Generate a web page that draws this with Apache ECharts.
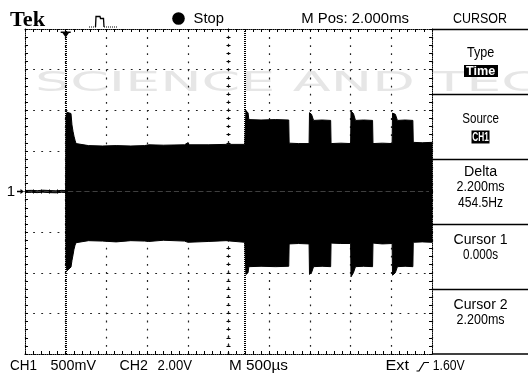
<!DOCTYPE html>
<html>
<head>
<meta charset="utf-8">
<script src="https://cdn.jsdelivr.net/npm/echarts@6/dist/echarts.min.js"></script>
<style>
html,body{margin:0;padding:0;background:#fff;}
#c{width:528px;height:376px;}
</style>
</head>
<body>
<div id="c"></div>
<script>
// ---------------- data (read from the scope screen) ----------------
// time in ms (trigger at 0), CH1 voltage envelope in V (500 mV/div)
const envTime = [-0.5, -0.42, -0.35, -0.28, -0.2, -0.12, -0.05, 0.0,
  0.004, 0.016, 0.04, 0.065, 0.077, 0.09, 0.102, 0.115, 0.127, 0.15,
  0.28, 0.45, 0.62, 0.8, 0.97, 1.02, 1.2, 1.46, 1.5, 1.52, 1.75, 1.97, 1.99, 2.2,
  2.205, 2.215, 2.24, 2.25, 2.4, 2.58, 2.74,
  2.745, 2.86, 2.99,
  2.995, 3.02, 3.045, 3.15, 3.255,
  3.26, 3.38, 3.5,
  3.505, 3.535, 3.56, 3.66, 3.77,
  3.775, 3.89, 4.01,
  4.015, 4.05, 4.075, 4.17, 4.265,
  4.27, 4.38, 4.5];
const envUpper = [0.012, 0.014, 0.010, 0.016, 0.012, 0.008, 0.014, 0.012,
  0.93, 0.975, 0.975, 0.96, 0.82, 0.74, 0.68, 0.63, 0.59, 0.585,
  0.565, 0.56, 0.565, 0.56, 0.565, 0.575, 0.57, 0.575, 0.60, 0.575, 0.575, 0.58, 0.60, 0.58,
  0.585, 0.99, 0.97, 0.885, 0.88, 0.885, 0.88,
  0.595, 0.59, 0.59,
  0.97, 0.95, 0.875, 0.88, 0.875,
  0.59, 0.595, 0.59,
  0.99, 0.96, 0.875, 0.88, 0.875,
  0.59, 0.595, 0.59,
  0.965, 0.95, 0.875, 0.88, 0.875,
  0.605, 0.60, 0.605];
const envLower = [-0.012, -0.010, -0.014, -0.008, -0.014, -0.016, -0.010, -0.012,
  -0.90, -0.975, -0.97, -0.93, -0.85, -0.78, -0.71, -0.66, -0.63, -0.615,
  -0.605, -0.61, -0.62, -0.605, -0.61, -0.615, -0.60, -0.61, -0.625, -0.61, -0.615, -0.605, -0.61, -0.625,
  -0.625, -1.02, -1.0, -0.925, -0.92, -0.925, -0.92,
  -0.645, -0.64, -0.645,
  -1.02, -1.0, -0.925, -0.92, -0.925,
  -0.635, -0.64, -0.64,
  -1.05, -1.0, -0.925, -0.92, -0.925,
  -0.635, -0.645, -0.64,
  -1.03, -1.0, -0.925, -0.92, -0.925,
  -0.625, -0.62, -0.625];
const cursorTimes = [0, 2.2];
const triggerTime = 0;
const channelLabel = '1';
const headerTexts = ['Tek', 'Stop', 'M Pos: 2.000ms', 'CURSOR'];
const footerTexts = ['CH1', '500mV', 'CH2', '2.00V', 'M 500\u00b5s', 'Ext', '1.60V'];
const menuTexts = ['Type', 'Time', 'Source', 'CH1', 'Delta', '2.200ms', '454.5Hz',
  'Cursor 1', '0.000s', 'Cursor 2', '2.200ms'];
const watermarkText = 'SCIENCE AND TECHNOLOGY';

// ---------------- layout / style ----------------
const GRID = {left: 25, top: 29, width: 407, height: 325};
const SANS = '"Liberation Sans", Arial, sans-serif';
const FONT14 = '14px ' + SANS;

const mctx = document.createElement('canvas').getContext('2d');
function measure(s, font) { mctx.font = font; return mctx.measureText(s).width; }
// text whose width is fitted to the width measured on the screen
function fitText(s, left, cy, width, opt) {
  opt = opt || {};
  const font = opt.font || FONT14;
  const w = measure(s, font);
  return {
    type: 'text', x: left, y: cy, scaleX: width / w, scaleY: 1, originX: 0, originY: 0,
    z: opt.z || 10, silent: true,
    style: {text: s, font: font, fill: opt.fill || '#000', align: 'left', verticalAlign: 'middle',
            textAlign: 'left', textVerticalAlign: 'middle'}
  };
}

const upperData = envTime.map((t, i) => [t, envUpper[i]]);
const lowerData = envTime.map((t, i) => [t, envLower[i]]);

const borderLine = {color: '#000', width: 1, type: [1, 1]};
function borderX(pos, split) {
  return {
    gridIndex: 0, type: 'value', min: -0.5, max: 4.5, interval: 0.5, position: pos,
    axisLine: {show: true, onZero: false, lineStyle: borderLine},
    axisTick: {show: true, inside: true, length: 3, lineStyle: {color: '#000', width: 1}},
    minorTick: {show: true, splitNumber: 5, length: 3, lineStyle: {color: '#000', width: 1}},
    axisLabel: {show: false},
    splitLine: {show: split, lineStyle: {color: '#222', width: 1.2, type: [1.8, 6.3]}}
  };
}
function borderY(pos, split) {
  return {
    gridIndex: 0, type: 'value', min: -2, max: 2, interval: 0.5, position: pos,
    axisLine: {show: true, onZero: false, lineStyle: borderLine},
    axisTick: {show: true, inside: true, length: 3, lineStyle: {color: '#000', width: 1}},
    minorTick: {show: true, splitNumber: 5, length: 3, lineStyle: {color: '#000', width: 1}},
    axisLabel: {show: false},
    splitLine: {show: split, lineStyle: {color: '#222', width: 1.2, type: [1.8, 6.34]}}
  };
}
function centerX(gi, inside) {
  return {
    gridIndex: gi, type: 'value', min: -2.5, max: 2.5, interval: 0.5, position: 'bottom',
    axisLine: {show: true, onZero: true, lineStyle: {color: '#222', width: 1.2, type: [1.8, 6.34]}},
    axisTick: {show: true, inside: inside, length: 2, lineStyle: {color: '#000', width: 1}},
    minorTick: {show: true, splitNumber: 5, length: 2, lineStyle: {color: '#000', width: 1}},
    axisLabel: {show: false}, splitLine: {show: false}
  };
}
function centerY(gi, inside) {
  return {
    gridIndex: gi, type: 'value', min: -2, max: 2, interval: 0.5, position: 'left',
    axisLine: {show: true, onZero: true, lineStyle: {color: '#222', width: 1.2, type: [1.8, 6.3]}},
    axisTick: {show: true, inside: inside, length: 2, lineStyle: {color: '#000', width: 1}},
    minorTick: {show: true, splitNumber: 5, length: 2, lineStyle: {color: '#000', width: 1}},
    axisLabel: {show: false}, splitLine: {show: false}
  };
}

const graphics = [];
// watermark
graphics.push({
  type: 'text', x: 35, y: 84.5, scaleX: 2.13, scaleY: 1, originX: 0, originY: 0, z: -5, silent: true,
  style: {text: watermarkText, font: '26px "DejaVu Sans", sans-serif', fill: '#e6e6e6',
          align: 'left', verticalAlign: 'middle', textAlign: 'left', textVerticalAlign: 'middle'}
});
// header
graphics.push(fitText(headerTexts[0], 10, 20.5, 35, {font: 'bold 21px "Liberation Serif", "Times New Roman", serif'}));
graphics.push({type: 'polyline', silent: true, z: 10,
  shape: {points: [[95.5, 27], [96, 16.5], [100, 16.5], [100.5, 18.5], [103.5, 18.5], [104, 27]]},
  style: {stroke: '#000', lineWidth: 1.3, fill: null}});
graphics.push({type: 'line', silent: true, z: 10, shape: {x1: 89, y1: 27, x2: 96, y2: 27},
  style: {stroke: '#000', lineWidth: 1.2, lineDash: [1, 1]}});
graphics.push({type: 'line', silent: true, z: 10, shape: {x1: 104, y1: 27, x2: 118, y2: 27},
  style: {stroke: '#000', lineWidth: 1.2, lineDash: [1, 1]}});
graphics.push({type: 'circle', silent: true, z: 10, shape: {cx: 178.5, cy: 18.5, r: 6.3}, style: {fill: '#000'}});
graphics.push(fitText(headerTexts[1], 193.6, 19, 30.3));
graphics.push(fitText(headerTexts[2], 301.3, 19, 107.7));
graphics.push(fitText(headerTexts[3], 453, 19, 54));

// right-hand menu separators
[29.5, 94.5, 159.5, 224.5, 289.5, 354].forEach(y => {
  graphics.push({type: 'line', silent: true, z: 10, shape: {x1: 432, y1: y, x2: 528, y2: y},
    style: {stroke: '#000', lineWidth: 1.5}});
});
// inverted boxes
graphics.push({type: 'rect', silent: true, z: 9, shape: {x: 464, y: 65, width: 34, height: 12}, style: {fill: '#000'}});
graphics.push({type: 'rect', silent: true, z: 9, shape: {x: 471.5, y: 130.5, width: 18, height: 13}, style: {fill: '#000'}});
// menu texts: [centerY, width, fill, font]
const BOLD13 = 'bold 13px ' + SANS;
const menuPos = [[53.3, 27.3], [71, 29.3, '#fff', BOLD13], [119, 36.7], [137, 16.5, '#fff', BOLD13],
  [171.7, 33.3], [187.3, 48], [203.3, 45], [240, 54], [255, 35], [305, 54], [320, 48]];
menuTexts.forEach((s, i) => {
  const p = menuPos[i];
  graphics.push(fitText(s, 480.6 - p[1] / 2, p[0], p[1], {fill: p[2] || '#000', font: p[3]}));
});
// footer texts: [left, width]
const footPos = [[10.1, 27], [50.5, 45.5], [119.5, 28.5], [157.6, 34.4], [229, 59], [385.5, 23.5], [432.7, 32]];
footerTexts.forEach((s, i) => graphics.push(fitText(s, footPos[i][0], 366.5, footPos[i][1])));
// trigger slope symbol
graphics.push({type: 'polyline', silent: true, z: 10,
  shape: {points: [[416.5, 371], [419, 371], [424, 362.5], [429, 362.5]]},
  style: {stroke: '#000', lineWidth: 1.2, fill: null}});

const option = {
  animation: false,
  backgroundColor: '#fff',
  grid: [Object.assign({}, GRID), Object.assign({}, GRID), Object.assign({}, GRID)],
  xAxis: [borderX('bottom', true), borderX('top', false), centerX(1, true), centerX(2, false)],
  yAxis: [borderY('left', true), borderY('right', false), centerY(1, true), centerY(2, false)],
  series: [
    {
      type: 'line', xAxisIndex: 0, yAxisIndex: 0, data: upperData, symbol: 'none', silent: true,
      lineStyle: {color: '#000', width: 1}, areaStyle: {color: '#000', opacity: 1},
      markLine: {
        silent: true, symbol: ['none', 'none'], label: {show: false},
        lineStyle: {color: '#000', width: 2, type: [1, 1]},
        data: cursorTimes.map(t => ({xAxis: t}))
      },
      markPoint: {
        silent: true,
        data: [
          {coord: [triggerTime, 2], symbol: 'path://M0,0H10V1.6H0Z M1.8,1.6H8.2L5,6Z',
           symbolSize: [10, 6], symbolOffset: [0, 5.5], itemStyle: {color: '#000'}, label: {show: false}},
          {coord: [-0.5, 0], symbol: 'path://M0,2H4V0L8,3L4,6V4H0Z',
           symbolSize: [7, 5], symbolOffset: [-4.5, 0], itemStyle: {color: '#000'},
           label: {show: true, position: 'left', distance: 2, formatter: channelLabel,
                   color: '#000', fontSize: 15, fontFamily: SANS}}
        ]
      }
    },
    {
      type: 'line', xAxisIndex: 0, yAxisIndex: 0, data: lowerData, symbol: 'none', silent: true,
      lineStyle: {color: '#000', width: 1}, areaStyle: {color: '#000', opacity: 1}
    }
  ],
  graphic: {elements: graphics}
};

const chart = echarts.init(document.getElementById('c'), null, {renderer: 'canvas', width: 528, height: 376});
chart.setOption(option);
</script>
</body>
</html>
